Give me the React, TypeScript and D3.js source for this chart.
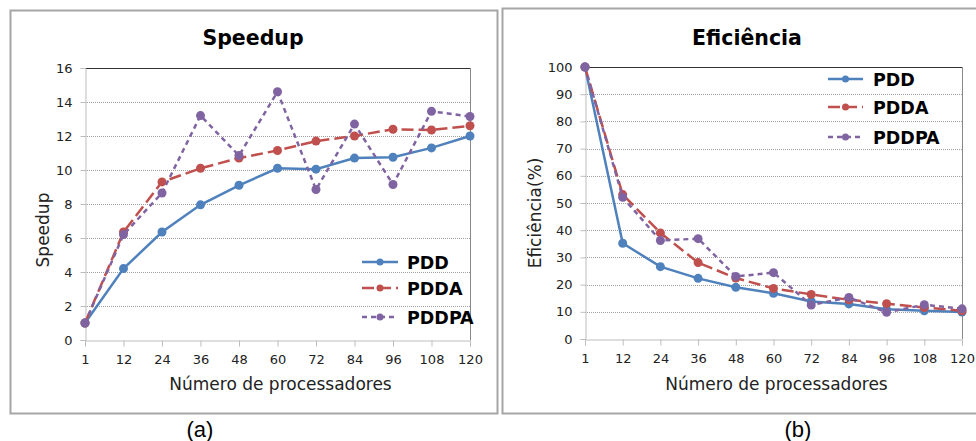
import * as d3 from "d3";
import { useEffect, useRef } from "react";

const processors = ["1", "12", "24", "36", "48", "60", "72", "84", "96", "108", "120"];
const seriesNames = ["PDD", "PDDA", "PDDPA"];
const seriesColors = ["#4F81BD", "#C0504D", "#8064A2"];
const seriesDash = ["none", "12,5", "5,4"];

const speedupPDD = [1, 4.2, 6.35, 7.95, 9.1, 10.1, 10.05, 10.7, 10.75, 11.3, 12.0];
const speedupPDDA = [1, 6.35, 9.3, 10.1, 10.7, 11.15, 11.7, 12.0, 12.4, 12.35, 12.6];
const speedupPDDPA = [1, 6.2, 8.65, 13.2, 10.85, 14.6, 8.85, 12.7, 9.15, 13.45, 13.15];

const eficPDD = [100, 35.2, 26.6, 22.3, 19.0, 16.8, 13.8, 12.9, 10.9, 10.4, 9.9];
const eficPDDA = [100, 53.1, 39.0, 28.1, 22.4, 18.6, 16.4, 14.4, 13.0, 11.6, 10.4];
const eficPDDPA = [100, 52.1, 36.2, 36.9, 23.0, 24.4, 12.5, 15.3, 9.8, 12.6, 11.1];

const speedupTicks = [0, 2, 4, 6, 8, 10, 12, 14, 16];
const eficTicks = [0, 10, 20, 30, 40, 50, 60, 70, 80, 90, 100];

const sans = "'DejaVu Sans', Verdana, sans-serif";

function drawPanel(g: any, opt: any) {
  const { box, plot, title, titleX, yLabel, yLabelX, yLabelY, ticks, series, legend, caption, captionX } = opt;

  // frame
  g.append("rect")
    .attr("x", box.x + 0.5).attr("y", box.y + 0.5)
    .attr("width", box.w).attr("height", box.h)
    .attr("fill", "#fff").attr("stroke", "#a6a6a6").attr("stroke-width", 2);

  const x = d3.scalePoint().domain(processors).range([plot.x0, plot.x1]);
  const y = d3.scaleLinear().domain([ticks[0], ticks[ticks.length - 1]]).range([plot.y1, plot.y0]);

  // gridlines
  g.selectAll(".grid").data(ticks.slice(1, -1)).join("line")
    .attr("x1", plot.x0).attr("x2", plot.x1)
    .attr("y1", (d: number) => Math.round(y(d)) + 0.5).attr("y2", (d: number) => Math.round(y(d)) + 0.5)
    .attr("stroke", "#a0a0a0").attr("stroke-dasharray", "1,1").attr("stroke-width", 1);

  // top + right border
  g.append("line").attr("x1", plot.x0).attr("x2", plot.x1)
    .attr("y1", plot.y0 + 0.5).attr("y2", plot.y0 + 0.5).attr("stroke", "#333").attr("stroke-width", 1);
  g.append("line").attr("x1", plot.x1 + 0.5).attr("x2", plot.x1 + 0.5)
    .attr("y1", plot.y0).attr("y2", plot.y1).attr("stroke", "#888").attr("stroke-width", 1);

  // y axis
  const yAxis = g.append("g").attr("transform", `translate(${plot.x0 + 0.5},0)`)
    .call(d3.axisLeft(y).tickValues(ticks).tickSize(5).tickPadding(8));
  yAxis.select(".domain").attr("stroke", "#bdbdbd");
  yAxis.selectAll(".tick line").attr("stroke", "#bdbdbd");
  yAxis.selectAll("text").attr("font-family", sans).attr("font-size", 13).attr("fill", "#222");

  // x axis
  const xAxis = g.append("g").attr("transform", `translate(0,${plot.y1 + 0.5})`)
    .call(d3.axisBottom(x).tickSize(6).tickPadding(8));
  xAxis.select(".domain").attr("stroke", "#bdbdbd");
  xAxis.selectAll(".tick line").attr("stroke", "#bdbdbd");
  xAxis.selectAll("text").attr("font-family", sans).attr("font-size", 13).attr("fill", "#222");

  // title
  g.append("text").attr("x", titleX).attr("y", 45).attr("text-anchor", "middle")
    .attr("font-family", sans).attr("font-weight", "bold").attr("font-size", 20.5).attr("fill", "#000")
    .text(title);

  // axis labels
  g.append("text").attr("x", (plot.x0 + plot.x1) / 2 + 3).attr("y", 390).attr("text-anchor", "middle")
    .attr("font-family", sans).attr("font-size", 17).attr("fill", "#222")
    .text("Número de processadores");
  g.append("text")
    .attr("transform", `translate(${yLabelX},${yLabelY}) rotate(-90)`)
    .attr("text-anchor", "middle")
    .attr("font-family", sans).attr("font-size", 17).attr("fill", "#222")
    .text(yLabel);

  // lines
  const line = d3.line<number>().x((_, i) => x(processors[i]) as number).y((d) => y(d));
  series.forEach((vals: number[], k: number) => {
    g.append("path").datum(vals).attr("d", line).attr("fill", "none")
      .attr("stroke", seriesColors[k]).attr("stroke-width", 2.5)
      .attr("stroke-dasharray", seriesDash[k]);
    g.selectAll(`.m${k}`).data(vals).join("circle")
      .attr("cx", (_: number, i: number) => x(processors[i]))
      .attr("cy", (d: number) => y(d)).attr("r", 4.5)
      .attr("fill", seriesColors[k]);
  });

  // legend
  seriesNames.forEach((name, k) => {
    const ly = legend.ys[k];
    g.append("line").attr("x1", legend.x0).attr("x2", legend.x1).attr("y1", ly).attr("y2", ly)
      .attr("stroke", seriesColors[k]).attr("stroke-width", 2.5).attr("stroke-dasharray", seriesDash[k]);
    g.append("circle").attr("cx", (legend.x0 + legend.x1) / 2).attr("cy", ly).attr("r", 3.5)
      .attr("fill", seriesColors[k]);
    g.append("text").attr("x", legend.tx).attr("y", ly + 6.5)
      .attr("font-family", sans).attr("font-weight", "bold").attr("font-size", 17.5).attr("fill", "#000")
      .text(name);
  });

  g.append("text").attr("x", captionX).attr("y", 437).attr("text-anchor", "middle")
    .attr("font-family", "'Liberation Sans', Arial, sans-serif").attr("font-size", 22).attr("fill", "#000")
    .text(caption);
}

export default function App() {
  const ref = useRef<SVGSVGElement>(null);
  useEffect(() => {
    const svg = d3.select(ref.current);
    svg.selectAll("*").remove();
    svg.append("rect").attr("width", 976).attr("height", 441).attr("fill", "#fff");

    drawPanel(svg.append("g"), {
      box: { x: 10, y: 10, w: 487, h: 403 },
      plot: { x0: 85, x1: 470, y0: 68, y1: 340 },
      title: "Speedup", titleX: 253,
      yLabel: "Speedup", yLabelX: 49, yLabelY: 230,
      ticks: speedupTicks,
      series: [speedupPDD, speedupPDDA, speedupPDDPA],
      legend: { x0: 362, x1: 398, tx: 407, ys: [262, 288, 317] },
      caption: "(a)", captionX: 200,
    });
    drawPanel(svg.append("g"), {
      box: { x: 502, y: 8, w: 480, h: 405 },
      plot: { x0: 585, x1: 962, y0: 67, y1: 339 },
      title: "Eficiência", titleX: 747,
      yLabel: "Eficiência(%)", yLabelX: 541, yLabelY: 213,
      ticks: eficTicks,
      series: [eficPDD, eficPDDA, eficPDDPA],
      legend: { x0: 828, x1: 863, tx: 873, ys: [79, 107, 137] },
      caption: "(b)", captionX: 798,
    });
  }, []);
  return (
    <svg ref={ref} width={976} height={441}
      style={{ position: "absolute", left: 0, top: 0, display: "block" }} />
  );
}
